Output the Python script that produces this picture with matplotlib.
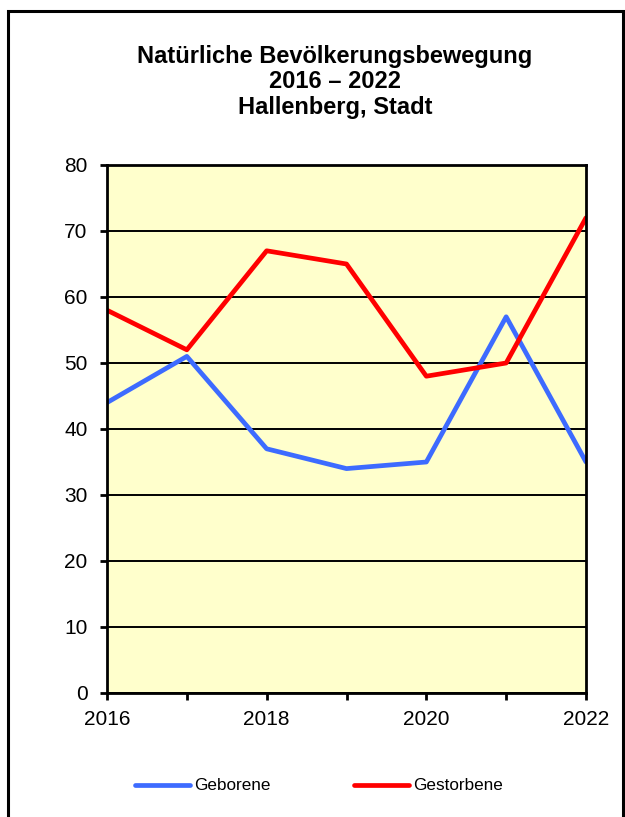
import matplotlib.pyplot as plt
from matplotlib.patches import Rectangle
from matplotlib.ticker import MultipleLocator

plt.rcParams['font.family'] = ['Liberation Sans', 'DejaVu Sans']

jahre = [2016, 2017, 2018, 2019, 2020, 2021, 2022]
geborene = [44, 51, 37, 34, 35, 57, 35]
gestorbene = [58, 52, 67, 65, 48, 50, 72]

fig = plt.figure(figsize=(6.25, 8.17), dpi=100)

# outer frame
fig.patches.append(Rectangle((7.5 / 625, -0.01), 615.5 / 625, 1 - 11 / 817 + 0.01,
                             transform=fig.transFigure, fill=False,
                             edgecolor='black', linewidth=2.2))

ax = fig.add_axes([107 / 625, 1 - 693 / 817, 479 / 625, 528 / 817])
ax.set_facecolor('#FFFFCC')

ax.plot(jahre, geborene, color='#3D6BFF', linewidth=3.4, label='Geborene', solid_capstyle='round')
ax.plot(jahre, gestorbene, color='#FF0000', linewidth=3.4, label='Gestorbene', solid_capstyle='round')

ax.set_xlim(2016, 2022)
ax.set_ylim(0, 80)
ax.xaxis.set_major_locator(MultipleLocator(2))
ax.xaxis.set_minor_locator(MultipleLocator(1))
ax.yaxis.set_major_locator(MultipleLocator(10))
ax.grid(axis='y', color='black', linewidth=1.4)
ax.set_axisbelow(True)

for s in ax.spines.values():
    s.set_linewidth(2)
ax.tick_params(axis='both', which='both', direction='out', width=2, length=5,
               labelsize=15, colors='black')
ax.tick_params(axis='y', pad=9)
ax.tick_params(axis='x', pad=7)

fig.text(335 / 625, 1 - 82 / 817, 'Natürliche Bevölkerungsbewegung\n2016 – 2022\nHallenberg, Stadt',
         ha='center', va='center', fontsize=17, fontweight='bold', linespacing=1.12)

fig.legend(loc='center', bbox_to_anchor=(319 / 625, 1 - 786 / 817), ncol=2, frameon=False,
           fontsize=12.3, handlelength=3.2, handletextpad=0.25, columnspacing=4.9)

fig.savefig('out.png', dpi=100)
